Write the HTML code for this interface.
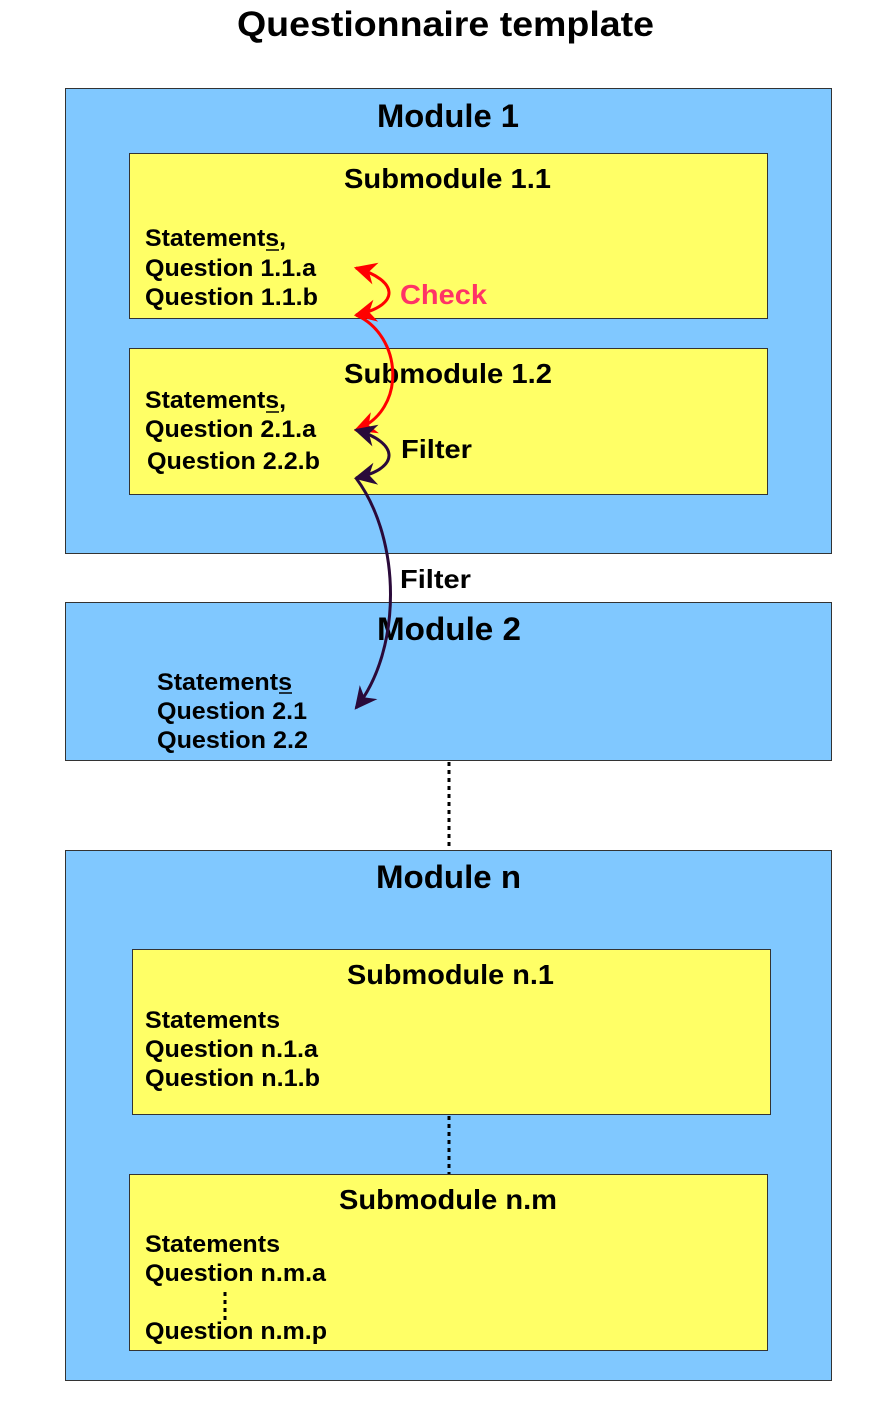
<!DOCTYPE html>
<html><head><meta charset="utf-8"><style>
html,body{margin:0;padding:0;background:#fff;width:890px;height:1404px;overflow:hidden}
text{font-family:"Liberation Sans",Arial,sans-serif;font-weight:bold;fill:#000}
.t{font-size:24px}
.h{font-size:28px}
.m{font-size:32px}
</style></head><body>
<svg width="890" height="1404" viewBox="0 0 890 1404" xmlns="http://www.w3.org/2000/svg">
<defs>
<marker id="ar" viewBox="0 0 10 10" refX="9" refY="5" markerWidth="7.5" markerHeight="7.5" orient="auto-start-reverse"><path d="M0,0 L10,5 L0,10 L3,5 z" fill="#ff0000"/></marker>
<marker id="ad" viewBox="0 0 10 10" refX="9" refY="5" markerWidth="7.5" markerHeight="7.5" orient="auto-start-reverse"><path d="M0,0 L10,5 L0,10 L3,5 z" fill="#2a0a3a"/></marker>
</defs>
<text x="237" y="36" textLength="417" lengthAdjust="spacingAndGlyphs" style="font-size:35px">Questionnaire template</text>

<rect x="65.5" y="88.5" width="766" height="465" fill="#80C8FF" stroke="#333" stroke-width="1"/>
<text x="377" y="127" textLength="142" lengthAdjust="spacingAndGlyphs" class="m">Module 1</text>
<rect x="129.5" y="153.5" width="638" height="165" fill="#FFFF66" stroke="#333" stroke-width="1"/>
<text x="344" y="188" textLength="207" lengthAdjust="spacingAndGlyphs" class="h">Submodule 1.1</text>
<text x="145" y="246" textLength="141" lengthAdjust="spacingAndGlyphs" class="t">Statements,</text>
<text x="145" y="276" textLength="171" lengthAdjust="spacingAndGlyphs" class="t">Question 1.1.a</text>
<text x="145" y="305" textLength="173" lengthAdjust="spacingAndGlyphs" class="t">Question 1.1.b</text>
<line x1="266" y1="250" x2="279" y2="250" stroke="#000" stroke-width="1.5"/>
<rect x="129.5" y="348.5" width="638" height="146" fill="#FFFF66" stroke="#333" stroke-width="1"/>
<text x="344" y="383" textLength="208" lengthAdjust="spacingAndGlyphs" class="h">Submodule 1.2</text>
<text x="145" y="408" textLength="141" lengthAdjust="spacingAndGlyphs" class="t">Statements,</text>
<text x="145" y="437" textLength="171" lengthAdjust="spacingAndGlyphs" class="t">Question 2.1.a</text>
<text x="147" y="469" textLength="173" lengthAdjust="spacingAndGlyphs" class="t">Question 2.2.b</text>
<line x1="266" y1="412" x2="279" y2="412" stroke="#000" stroke-width="1.5"/>

<rect x="65.5" y="602.5" width="766" height="158" fill="#80C8FF" stroke="#333" stroke-width="1"/>
<text x="377" y="640" textLength="144" lengthAdjust="spacingAndGlyphs" class="m">Module 2</text>
<text x="157" y="690" textLength="135" lengthAdjust="spacingAndGlyphs" class="t">Statements</text>
<text x="157" y="719" textLength="150" lengthAdjust="spacingAndGlyphs" class="t">Question 2.1</text>
<text x="157" y="748" textLength="151" lengthAdjust="spacingAndGlyphs" class="t">Question 2.2</text>
<line x1="279" y1="693" x2="292" y2="693" stroke="#000" stroke-width="1.5"/>
<text x="400" y="588" textLength="71" lengthAdjust="spacingAndGlyphs" style="font-size:26px">Filter</text>

<line x1="449" y1="762" x2="449" y2="850" stroke="#000" stroke-width="3" stroke-dasharray="4,4"/>

<rect x="65.5" y="850.5" width="766" height="530" fill="#80C8FF" stroke="#333" stroke-width="1"/>
<text x="376" y="888" textLength="145" lengthAdjust="spacingAndGlyphs" class="m">Module n</text>
<rect x="132.5" y="949.5" width="638" height="165" fill="#FFFF66" stroke="#333" stroke-width="1"/>
<text x="347" y="984" textLength="207" lengthAdjust="spacingAndGlyphs" class="h">Submodule n.1</text>
<text x="145" y="1028" textLength="135" lengthAdjust="spacingAndGlyphs" class="t">Statements</text>
<text x="145" y="1057" textLength="173" lengthAdjust="spacingAndGlyphs" class="t">Question n.1.a</text>
<text x="145" y="1086" textLength="175" lengthAdjust="spacingAndGlyphs" class="t">Question n.1.b</text>
<line x1="449" y1="1116" x2="449" y2="1174" stroke="#000" stroke-width="3" stroke-dasharray="4,4"/>
<rect x="129.5" y="1174.5" width="638" height="176" fill="#FFFF66" stroke="#333" stroke-width="1"/>
<text x="339" y="1209" textLength="218" lengthAdjust="spacingAndGlyphs" class="h">Submodule n.m</text>
<text x="145" y="1252" textLength="135" lengthAdjust="spacingAndGlyphs" class="t">Statements</text>
<text x="145" y="1281" textLength="181" lengthAdjust="spacingAndGlyphs" class="t">Question n.m.a</text>
<line x1="225" y1="1292" x2="225" y2="1320" stroke="#000" stroke-width="3" stroke-dasharray="4,4"/>
<text x="145" y="1339" textLength="182" lengthAdjust="spacingAndGlyphs" class="t">Question n.m.p</text>

<!-- arrows -->
<path d="M356,268 C398,280 402,305 356,315" fill="none" stroke="#ff0000" stroke-width="3" marker-start="url(#ar)" marker-end="url(#ar)"/>
<path d="M356,315 C402,335 408,410 356,430" fill="none" stroke="#ff0000" stroke-width="3" marker-end="url(#ar)"/>
<path d="M356,430 C398,442 402,468 356,478" fill="none" stroke="#2a0a3a" stroke-width="3" marker-start="url(#ad)" marker-end="url(#ad)"/>
<path d="M356,478 C402,540 402,650 356,708" fill="none" stroke="#2a0a3a" stroke-width="3" marker-end="url(#ad)"/>
<text x="400" y="304" textLength="87" lengthAdjust="spacingAndGlyphs" style="font-size:28px;fill:#FF3366">Check</text>
<text x="401" y="458" textLength="71" lengthAdjust="spacingAndGlyphs" style="font-size:26px">Filter</text>
</svg>
</body></html>
